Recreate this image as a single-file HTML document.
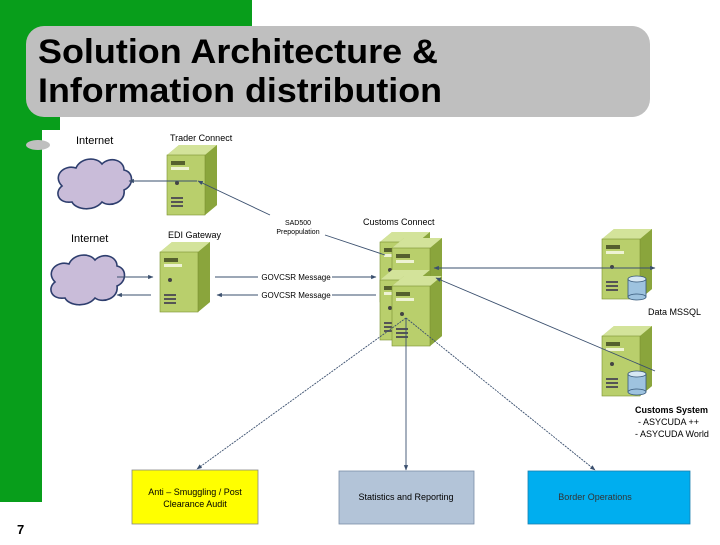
<!DOCTYPE html>
<html><head><meta charset="utf-8"><style>
body{margin:0;width:720px;height:540px;overflow:hidden;background:#fff;font-family:"Liberation Sans",sans-serif}
</style></head><body>
<svg width="720" height="540" viewBox="0 0 720 540" xmlns="http://www.w3.org/2000/svg" font-family="Liberation Sans, sans-serif">
<defs>
<g id="srv">
<polygon points="0,10 12,0 50,0 50,60 38,70 0,70" fill="#a8bf5a"/>
<polygon points="12,0 50,0 38,10 0,10" fill="#d3e39a"/>
<polygon points="38,10 50,0 50,60 38,70" fill="#8aa53c"/>
<rect x="0" y="10" width="38" height="60" fill="#b9cf6c" stroke="#7a9030" stroke-width="0.6"/>
<rect x="4" y="16" width="14" height="4" fill="#55602e"/>
<rect x="4" y="22" width="18" height="3" fill="#eef3d4"/>
<circle cx="10" cy="38" r="2" fill="#444"/>
<rect x="4" y="52" width="12" height="2" fill="#555"/><rect x="4" y="56" width="12" height="2" fill="#555"/><rect x="4" y="60" width="12" height="2" fill="#555"/>
</g>
<g id="cyl">
<rect x="0" y="4" width="18" height="18" fill="#9ec3df" stroke="#37597a" stroke-width="0.8"/>
<ellipse cx="9" cy="22" rx="9" ry="3" fill="#9ec3df" stroke="#37597a" stroke-width="0.8"/>
<ellipse cx="9" cy="4" rx="9" ry="3" fill="#d7e8f4" stroke="#37597a" stroke-width="0.8"/>
</g>
<g id="cloud">
<path d="M10,30 C0,20 12,8 24,12 C28,2 44,0 50,8 C58,0 72,4 72,14 C82,16 82,30 72,34 C74,46 58,52 50,46 C42,56 24,54 20,46 C6,48 2,36 10,30 Z" fill="#c9bcd9" stroke="#2e3e6e" stroke-width="1.6"/>
</g>
<marker id="ar" viewBox="0 0 10 10" refX="9" refY="5" markerWidth="6" markerHeight="6" orient="auto-start-reverse"><path d="M0,1 L10,5 L0,9 Z" fill="#3a4f6e"/></marker>
</defs>
<rect x="0" y="0" width="252" height="117" fill="#089e1b"/>
<rect x="0" y="0" width="42" height="502" fill="#089e1b"/>
<rect x="0" y="110" width="60" height="20" fill="#089e1b"/>
<rect x="26" y="26" width="624" height="91" rx="18" fill="#bfbfbf"/>
<text x="38" y="63" font-size="34" font-weight="bold" fill="#000" textLength="400" lengthAdjust="spacingAndGlyphs">Solution Architecture &amp;</text>
<text x="38" y="102" font-size="34" font-weight="bold" fill="#000" textLength="404" lengthAdjust="spacingAndGlyphs">Information distribution</text>
<rect x="42" y="130" width="678" height="410" fill="#fff"/>
<ellipse cx="38" cy="145" rx="12" ry="5" fill="#bfbfbf"/>
<text x="17" y="534" font-size="13" font-weight="bold">7</text>

<use href="#cloud" x="52" y="156"/>
<use href="#cloud" x="45" y="252"/>
<text x="76" y="144" font-size="11">Internet</text>
<text x="71" y="242" font-size="11">Internet</text>
<use href="#srv" x="167" y="145"/>
<use href="#srv" x="160" y="242"/>
<use href="#srv" x="380" y="232"/>
<use href="#srv" x="392" y="238"/>
<use href="#srv" x="380" y="270"/>
<use href="#srv" x="392" y="276"/>
<use href="#srv" x="602" y="229"/>
<use href="#cyl" x="628" y="275"/>
<use href="#srv" x="602" y="326"/>
<use href="#cyl" x="628" y="370"/>
<text x="170" y="141" font-size="9">Trader Connect</text>
<text x="168" y="238" font-size="9">EDI Gateway</text>
<text x="363" y="225" font-size="9">Customs Connect</text>
<text x="648" y="315" font-size="9">Data  MSSQL</text>
<text x="635" y="413" font-size="9" font-weight="bold">Customs System</text>
<text x="638" y="425" font-size="9">- ASYCUDA ++</text>
<text x="635" y="437" font-size="9">- ASYCUDA World</text>
<text x="298" y="225" font-size="7" text-anchor="middle">SAD500</text>
<text x="298" y="234" font-size="7" text-anchor="middle">Prepopulation</text>
<g stroke="#3a4f6e" stroke-width="0.9" fill="none">
<line x1="197" y1="181" x2="129" y2="181" marker-end="url(#ar)"/>
<line x1="270" y1="215" x2="198" y2="181" marker-end="url(#ar)"/>
<line x1="325" y1="235" x2="385" y2="255"/>
<line x1="117" y1="277" x2="153" y2="277" marker-end="url(#ar)"/>
<line x1="151" y1="295" x2="117" y2="295" marker-end="url(#ar)"/>
<line x1="215" y1="277" x2="258" y2="277"/>
<line x1="332" y1="277" x2="376" y2="277" marker-end="url(#ar)"/>
<line x1="376" y1="295" x2="332" y2="295"/>
<line x1="258" y1="295" x2="217" y2="295" marker-end="url(#ar)"/>
<line x1="434" y1="268" x2="655" y2="268" marker-start="url(#ar)" marker-end="url(#ar)"/>
<line x1="655" y1="371" x2="436" y2="278" marker-end="url(#ar)"/>
<line x1="406" y1="318" x2="406" y2="470" marker-end="url(#ar)"/>
<line x1="406" y1="318" x2="197" y2="469" marker-end="url(#ar)" stroke-dasharray="2,1"/>
<line x1="406" y1="318" x2="595" y2="470" marker-end="url(#ar)" stroke-dasharray="2,1"/>
</g>
<text x="296" y="280" font-size="8" text-anchor="middle">GOVCSR Message</text>
<text x="296" y="298" font-size="8" text-anchor="middle">GOVCSR Message</text>
<rect x="132" y="470" width="126" height="54" fill="#ffff00" stroke="#888" stroke-width="0.8"/>
<text x="195" y="495" font-size="9" text-anchor="middle">Anti – Smuggling / Post</text>
<text x="195" y="507" font-size="9" text-anchor="middle">Clearance Audit</text>
<rect x="339" y="471" width="135" height="53" fill="#b3c4d8" stroke="#7a8ea8" stroke-width="0.8"/>
<text x="406" y="500" font-size="9" text-anchor="middle">Statistics and Reporting</text>
<rect x="528" y="471" width="162" height="53" fill="#00aeef" stroke="#1a7fb0" stroke-width="0.8"/>
<text x="595" y="500" font-size="9" text-anchor="middle" fill="#333">Border Operations</text>
</svg>
</body></html>
